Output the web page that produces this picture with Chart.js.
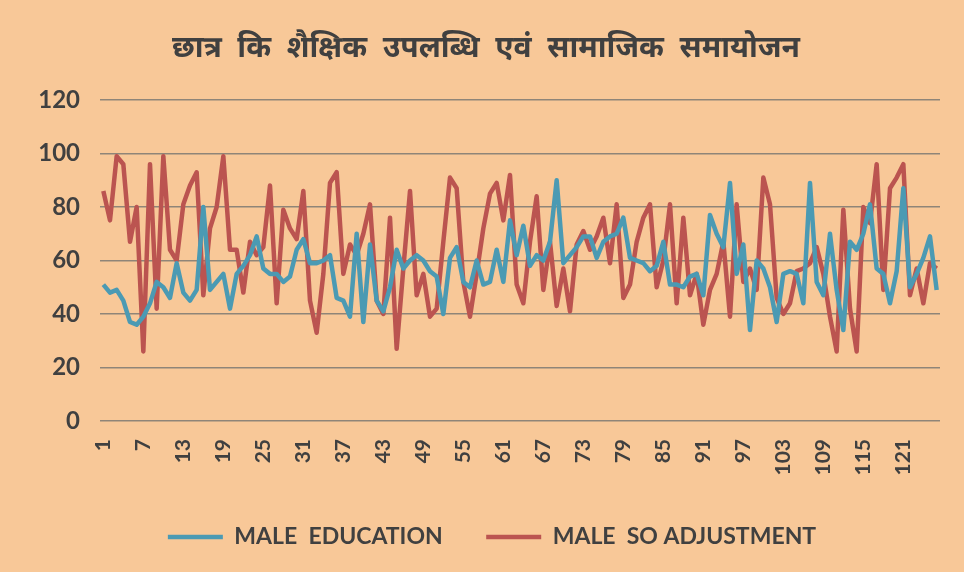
<!DOCTYPE html>
<html>
<head>
<meta charset="utf-8">
<script src="https://cdn.jsdelivr.net/npm/chart.js@4.4.1/dist/chart.umd.min.js"></script>
<style>
  html, body { margin: 0; padding: 0; background: #f8c898; }
  #wrap { width: 964px; height: 572px; position: relative; }
</style>
</head>
<body>
<div id="wrap"><canvas id="chart"></canvas></div>
<script>
// x categories 1..126 (only every 6th one is printed)
const labels = [
  1, 2, 3, 4, 5, 6, 7, 8, 9, 10, 11, 12, 13, 14, 15, 16, 17, 18, 19, 20,
  21, 22, 23, 24, 25, 26, 27, 28, 29, 30, 31, 32, 33, 34, 35, 36, 37, 38, 39, 40,
  41, 42, 43, 44, 45, 46, 47, 48, 49, 50, 51, 52, 53, 54, 55, 56, 57, 58, 59, 60,
  61, 62, 63, 64, 65, 66, 67, 68, 69, 70, 71, 72, 73, 74, 75, 76, 77, 78, 79, 80,
  81, 82, 83, 84, 85, 86, 87, 88, 89, 90, 91, 92, 93, 94, 95, 96, 97, 98, 99, 100,
  101, 102, 103, 104, 105, 106, 107, 108, 109, 110, 111, 112, 113, 114, 115, 116, 117, 118, 119, 120,
  121, 122, 123, 124, 125, 126
];

// MALE EDUCATION
const maleEducation = [
  51, 48, 49, 45, 37, 36, 39, 44, 52, 50, 46, 59, 48, 45, 49, 80, 49, 52, 55, 42,
  55, 58, 62, 69, 57, 55, 55, 52, 54, 64, 68, 59, 59, 60, 62, 46, 45, 39, 70, 37,
  66, 45, 41, 50, 64, 57, 60, 62, 60, 56, 54, 40, 61, 65, 52, 50, 60, 51, 52, 64,
  52, 75, 62, 73, 58, 62, 60, 67, 90, 59, 62, 65, 69, 69, 61, 67, 69, 70, 76, 61,
  60, 59, 56, 58, 67, 51, 51, 50, 54, 55, 47, 77, 70, 65, 89, 55, 66, 34, 60, 57,
  50, 37, 55, 56, 55, 44, 89, 52, 47, 70, 49, 34, 67, 64, 70, 81, 57, 55, 44, 56,
  87, 50, 55, 61, 69, 49
];

// MALE SO ADJUSTMENT
const maleAdjustment = [
  86, 75, 99, 96, 67, 80, 26, 96, 42, 99, 64, 60, 81, 88, 93, 47, 72, 80, 99, 64,
  64, 48, 67, 62, 65, 88, 44, 79, 72, 68, 86, 45, 33, 55, 89, 93, 55, 66, 62, 70,
  81, 45, 40, 76, 27, 57, 86, 47, 55, 39, 42, 67, 91, 87, 52, 39, 55, 72, 85, 89,
  75, 92, 51, 44, 67, 84, 49, 67, 43, 57, 41, 66, 71, 64, 69, 76, 59, 81, 46, 51,
  67, 76, 81, 50, 60, 81, 44, 76, 47, 55, 36, 49, 55, 67, 39, 81, 52, 57, 49, 91,
  81, 46, 40, 44, 56, 57, 59, 65, 55, 39, 26, 79, 42, 26, 80, 74, 96, 49, 87, 91,
  96, 47, 57, 44, 59, 57
];

const yTicks = [0, 20, 40, 60, 80, 100, 120];

const titleText = 'छात्र  कि  शैक्षिक  उपलब्धि  एवं  सामाजिक  समायोजन';
const textColor = '#404040';
const baseFont = 'Lato, "Noto Sans", sans-serif';

// title and legend are a bit right of the canvas centre in the original
const shiftBlocks = {
    id: 'shiftBlocks',
    afterLayout(chart) {
        const moves = [[chart.titleBlock, 16], [chart.legend, 22]];
        moves.forEach(([box, dx]) => {
            if (!box) return;
            box.left += dx;
            box.right += dx;
        });
    }
};

new Chart(document.getElementById('chart'), {
    type: 'line',
    data: {
        labels: labels,
        datasets: [
            {
                label: 'MALE  EDUCATION',
                data: maleEducation,
                borderColor: '#4b9ab3',
                backgroundColor: '#4b9ab3',
                borderWidth: 4.5,
                borderJoinStyle: 'round',
                pointRadius: 0,
                tension: 0
            },
            {
                label: 'MALE  SO ADJUSTMENT',
                data: maleAdjustment,
                borderColor: '#bb5450',
                backgroundColor: '#bb5450',
                borderWidth: 4.5,
                borderJoinStyle: 'round',
                pointRadius: 0,
                tension: 0
            }
        ]
    },
    options: {
        animation: false,
        responsive: true,
        maintainAspectRatio: false,
        layout: { padding: { left: 0, right: 24, top: 0, bottom: 13.5 } },
        plugins: {
            title: {
                display: true,
                text: titleText,
                color: textColor,
                font: { family: '"Noto Sans Devanagari", "Noto Sans", sans-serif', size: 30, weight: 'bold', lineHeight: 1.2 },
                padding: { top: 33, bottom: 31 }
            },
            legend: {
                position: 'bottom',
                labels: {
                    color: textColor,
                    font: { family: baseFont, size: 23, weight: 'bold' },
                    usePointStyle: true,
                    pointStyle: 'line',
                    pointStyleWidth: 55,
                    padding: 43.5
                }
            },
            tooltip: { enabled: false }
        },
        scales: {
            x: {
                offset: true,
                grid: { display: false },
                border: { display: false },
                ticks: {
                    autoSkip: false,
                    minRotation: 90,
                    maxRotation: 90,
                    padding: 10,
                    color: textColor,
                    font: { family: baseFont, size: 21, weight: 'bold' },
                    callback: (v, i) => (i % 6 === 0 ? String(labels[i]) : '')
                },
                afterFit: (s) => {
                    s.height = 61;
                    s.paddingLeft = 0;
                    s.paddingRight = 0;
                }
            },
            y: {
                min: 0,
                max: 120,
                afterBuildTicks: (s) => { s.ticks = yTicks.map(v => ({value: v})); },
                grid: { color: '#8f8578', lineWidth: 1.5, drawTicks: false },
                border: { display: false },
                ticks: {
                    padding: 20,
                    color: textColor,
                    font: { family: baseFont, size: 24, weight: 'bold' }
                },
                afterFit: (s) => { s.width = 100; }
            }
        }
    },
    plugins: [shiftBlocks]
});
</script>
</body>
</html>
